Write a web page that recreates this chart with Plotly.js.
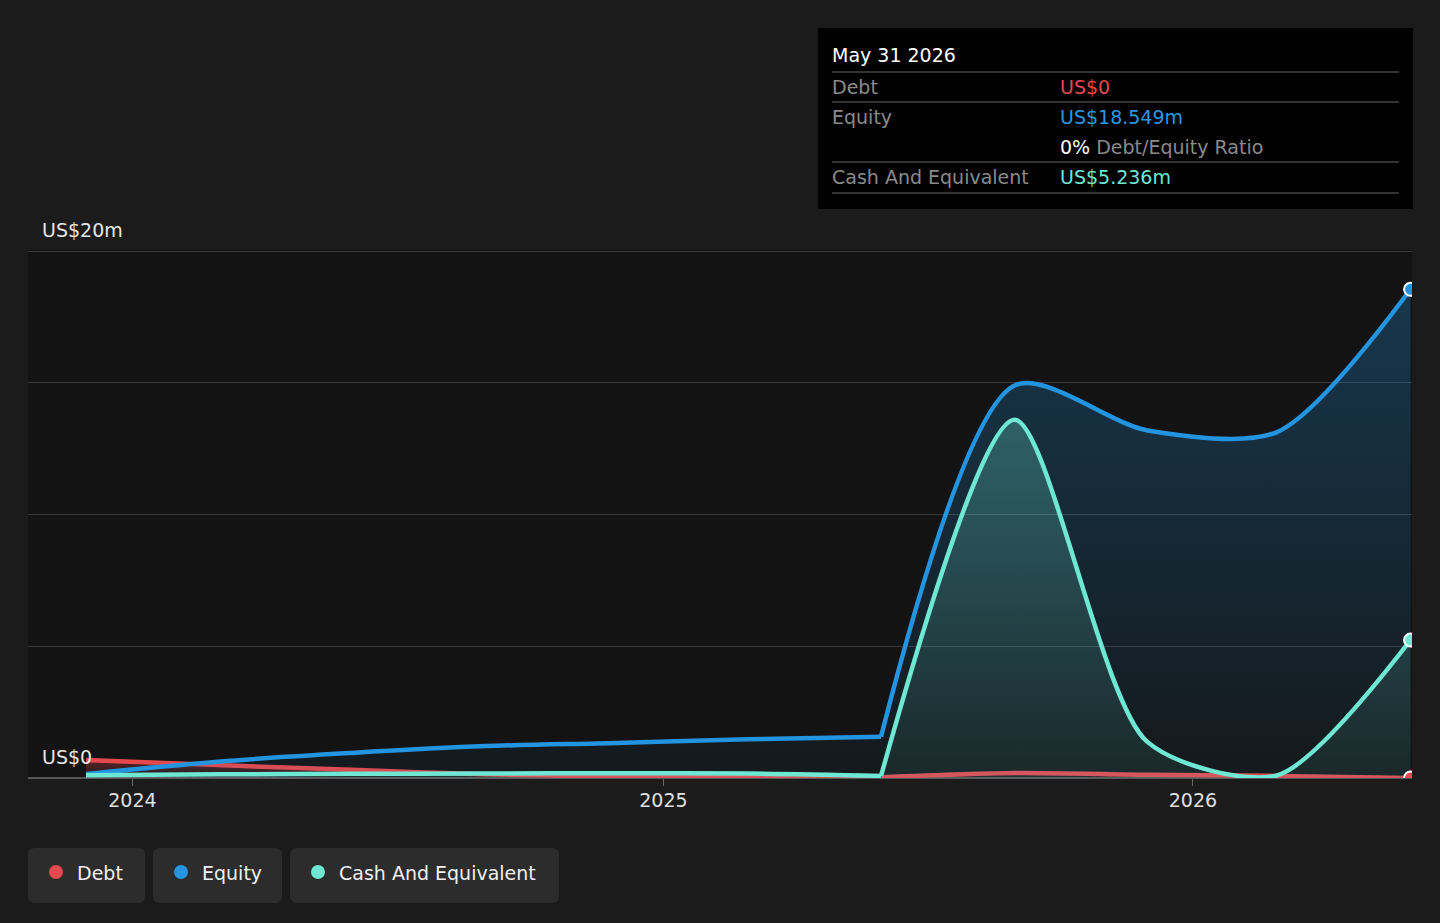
<!DOCTYPE html>
<html>
<head>
<meta charset="utf-8">
<script src="https://cdn.plot.ly/plotly-3.0.1.min.js"></script>
<style>
  html, body { margin: 0; padding: 0; background: #1b1b1b; }
  #chart { width: 1440px; height: 923px; }
</style>
</head>
<body>
<div id="chart"></div>
<script>
// ---- data ----
const dates = ['2023-11-30','2024-02-29','2024-05-31','2024-08-31','2024-11-30','2025-02-28','2025-05-31','2025-08-31','2025-11-30','2026-02-28','2026-05-31'];
const debt   = [0.68, 0.49, 0.31, 0.14, 0.06, 0.04, 0.03, 0.19, 0.12, 0.08, 0];
const equity = [0.15, 0.62, 0.95, 1.21, 1.33, 1.47, 1.57, 14.9, 13.2, 13.13, 18.549];
const cash   = [0.10, 0.14, 0.16, 0.17, 0.18, 0.17, 0.08, 13.6, 1.40, 0.10, 5.236];
const seriesNames = ['Debt', 'Equity', 'Cash And Equivalent'];
const xTickVals = ['2024-01-01','2025-01-01','2026-01-01'];
const xTickText = ['2024','2025','2026'];
const yTickVals = [0, 5, 10, 15, 20];
const yTickLabels = ['US$0', 'US$20m'];
const tipDate = 'May 31 2026';
const tipDebt = 'US$0';
const tipEquity = 'US$18.549m';
const tipRatio = '0%';
const tipCash = 'US$5.236m';

// ---- style ----
const C_DEBT = '#e5484d', C_EQ = '#2394df', C_CASH = '#6ee7d3';
const FONT = 'DejaVu Sans, sans-serif';
const L = 28, R = 1412, T = 250, B = 778;
const PX = p => (p - L) / (R - L);
const PY = p => (B - p) / (B - T);

// the curve is drawn in pieces joined at real data points (where the series turns sharply)
function areaTraces(name, y, color, fillLo, fillHi, breaks, sm) {
  const cuts = [0].concat(breaks, [y.length - 1]);
  const top = Math.max.apply(null, y);
  const out = [];
  for (let k = 0; k < cuts.length - 1; k++) {
    const a = cuts[k], b = cuts[k + 1];
    out.push({
      type: 'scatter', mode: 'lines', name: name,
      x: dates.slice(a, b + 1), y: y.slice(a, b + 1),
      line: { color: color, width: 4.5, shape: 'spline', smoothing: sm[k] },
      fill: 'tozeroy',
      fillgradient: { type: 'vertical', start: 0, stop: top, colorscale: [[0, fillLo], [1, fillHi]] },
      hoverinfo: 'skip', showlegend: false
    });
  }
  return out;
}
function endMarker(y, color) {
  const i = dates.length - 1;
  return {
    type: 'scatter', mode: 'markers', x: [dates[i]], y: [y[i]],
    marker: { size: 13, color: color, line: { color: '#ffffff', width: 2 } },
    cliponaxis: true, hoverinfo: 'skip', showlegend: false
  };
}

const traces = [].concat(
  areaTraces(seriesNames[0], debt, C_DEBT, 'rgba(229,72,77,0.04)', 'rgba(229,72,77,0.35)', [6], [0.9, 0.8]),
  areaTraces(seriesNames[1], equity, C_EQ, 'rgba(35,148,223,0.05)', 'rgba(35,148,223,0.28)', [6], [1, 0.8]),
  areaTraces(seriesNames[2], cash, C_CASH, 'rgba(110,231,211,0.07)', 'rgba(110,231,211,0.27)', [6], [0.9, 0.75]),
  [endMarker(debt, C_DEBT), endMarker(equity, C_EQ), endMarker(cash, C_CASH)]
);

// rounded-rect path in paper coordinates
function rrect(x0, y0, x1, y1, r) {
  const p = (x, y) => PX(x).toFixed(5) + ',' + PY(y).toFixed(5);
  return 'M' + p(x0 + r, y0) + ' L' + p(x1 - r, y0) + ' Q' + p(x1, y0) + ' ' + p(x1, y0 + r) +
    ' L' + p(x1, y1 - r) + ' Q' + p(x1, y1) + ' ' + p(x1 - r, y1) +
    ' L' + p(x0 + r, y1) + ' Q' + p(x0, y1) + ' ' + p(x0, y1 - r) +
    ' L' + p(x0, y0 + r) + ' Q' + p(x0, y0) + ' ' + p(x0 + r, y0) + ' Z';
}

const shapes = [];
const annotations = [];
function txt(text, x, y, color, size) {
  annotations.push({
    xref: 'paper', yref: 'paper', x: PX(x - 2), y: PY(y), text: text, showarrow: false,
    xanchor: 'left', yanchor: 'middle',
    font: { family: FONT, size: size || 19, color: color }
  });
}

// y labels
txt(yTickLabels[1], 42, 230, '#e6e6e6');
txt(yTickLabels[0], 42, 757, '#e6e6e6');

// tooltip box
shapes.push({ type: 'rect', xref: 'paper', yref: 'paper', x0: PX(818), x1: PX(1413), y0: PY(28), y1: PY(209),
  fillcolor: '#000000', line: { width: 0 }, layer: 'above' });
[72, 102, 162, 193].forEach(yy => shapes.push({
  type: 'line', xref: 'paper', yref: 'paper', x0: PX(832), x1: PX(1399), y0: PY(yy), y1: PY(yy),
  line: { color: '#444444', width: 1.5 }, layer: 'above' }));
txt(tipDate, 832, 55, '#ffffff');
txt(seriesNames[0], 832, 87, '#8a8a8a');
txt(tipDebt, 1060, 87, C_DEBT);
txt(seriesNames[1], 832, 117, '#8a8a8a');
txt(tipEquity, 1060, 117, '#2a98e0');
txt('<span style="color:#ffffff">' + tipRatio + '</span> Debt/Equity Ratio', 1060, 147, '#8a8a8a');
txt(seriesNames[2], 832, 177, '#8a8a8a');
txt(tipCash, 1060, 177, C_CASH);

// legend
const legendBoxes = [[28, 145], [153, 282], [290, 559]];
const legendColors = [C_DEBT, C_EQ, C_CASH];
legendBoxes.forEach((b, i) => {
  shapes.push({ type: 'path', xref: 'paper', yref: 'paper', path: rrect(b[0], 848, b[1], 903, 7),
    fillcolor: '#2c2c2c', line: { width: 0 }, layer: 'above' });
  shapes.push({ type: 'circle', xref: 'paper', yref: 'paper',
    x0: PX(b[0] + 21), x1: PX(b[0] + 35), y0: PY(865), y1: PY(879),
    fillcolor: legendColors[i], line: { width: 0 }, layer: 'above' });
  txt(seriesNames[i], b[0] + 49, 873, '#f0f0f0');
});

const layout = {
  width: 1440, height: 923,
  paper_bgcolor: '#1b1b1b', plot_bgcolor: '#131313',
  margin: { l: L, r: 1440 - R, t: T, b: 923 - B, pad: 0 },
  showlegend: false,
  xaxis: {
    type: 'date', range: ['2023-10-21', '2026-06-01'],
    tickvals: xTickVals, ticktext: xTickText,
    ticks: 'outside', ticklen: 7, tickcolor: '#666666', tickwidth: 1,
    ticklabelstandoff: -2,
    showgrid: false, zeroline: false, showline: false,
    tickfont: { family: FONT, size: 19, color: '#e0e0e0' },
    fixedrange: true
  },
  yaxis: {
    range: [0, 20.04], tickvals: yTickVals, showticklabels: false,
    showgrid: true, gridcolor: '#383838', gridwidth: 1,
    zeroline: true, zerolinecolor: '#555555', zerolinewidth: 1.5,
    showline: false, fixedrange: true
  },
  shapes: shapes,
  annotations: annotations,
  font: { family: FONT }
};

Plotly.newPlot('chart', traces, layout, { displayModeBar: false, staticPlot: true });
</script>
</body>
</html>
